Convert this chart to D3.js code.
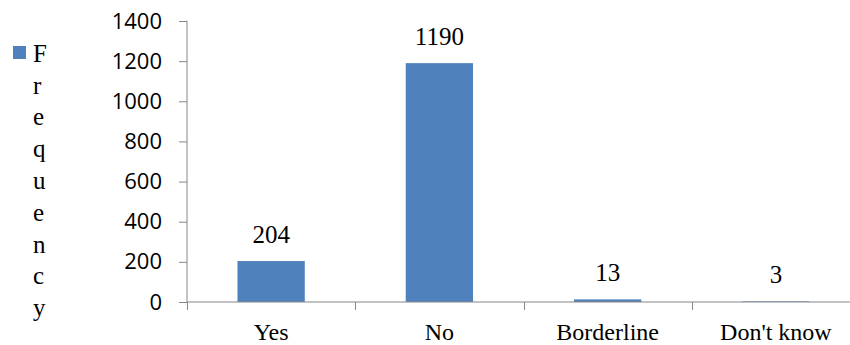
<!DOCTYPE html>
<html>
<head>
<meta charset="utf-8">
<script src="https://cdn.jsdelivr.net/npm/d3@7/dist/d3.min.js"></script>
<style>
  html, body { margin: 0; padding: 0; background: #fff; }
  svg { display: block; }
</style>
</head>
<body>
<svg id="chart" width="850" height="345"></svg>
<script>
// Survey responses and their counts
const categories = ["Yes", "No", "Borderline", "Don't know"];
const frequency = [204, 1190, 13, 3];
const yTicks = [0, 200, 400, 600, 800, 1000, 1200, 1400];
const legendLabel = "Frequency";

const svg = d3.select("#chart");
const axisColor = "#868686";
const barColor = "#4F81BD";
const serif = "'Liberation Serif', 'Times New Roman', serif";
const sans = "'Open Sans', 'Liberation Sans', sans-serif";

const plot = { left: 187, right: 860, top: 21, bottom: 302 };

const x = d3.scaleBand()
  .domain(categories)
  .range([plot.left, plot.right])
  .paddingInner(0)
  .paddingOuter(0);

const y = d3.scaleLinear()
  .domain([0, 1400])
  .range([plot.bottom, plot.top]);

const barWidth = x.bandwidth() * 0.4;

// Bars
svg.append("g")
  .selectAll("rect")
  .data(categories)
  .join("rect")
  .attr("x", (d) => x(d) + (x.bandwidth() - barWidth) / 2)
  .attr("y", (d, i) => y(frequency[i]))
  .attr("width", barWidth)
  .attr("height", (d, i) => y(0) - y(frequency[i]))
  .attr("fill", barColor);

// Value labels above bars
svg.append("g")
  .selectAll("text")
  .data(categories)
  .join("text")
  .attr("x", (d) => x(d) + x.bandwidth() / 2)
  .attr("y", (d, i) => y(frequency[i]) - 18)
  .attr("text-anchor", "middle")
  .attr("font-family", serif)
  .attr("font-size", 25)
  .attr("fill", "#000")
  .text((d, i) => frequency[i]);

// Y axis
const yAxis = svg.append("g")
  .attr("transform", `translate(${plot.left},0)`)
  .call(d3.axisLeft(y).tickValues(yTicks).tickSize(8).tickPadding(17).tickFormat(d3.format("d")));
yAxis.select(".domain").attr("stroke", axisColor).attr("d", `M-0.5,${plot.top}H0V${plot.bottom}`);
yAxis.selectAll(".tick line").attr("stroke", axisColor);
yAxis.selectAll(".tick text")
  .attr("font-family", sans)
  .attr("font-size", 22)
  .attr("fill", "#000");

// X axis
const xAxis = svg.append("g")
  .attr("transform", `translate(0,${plot.bottom})`)
  .call(d3.axisBottom(x).tickSize(0).tickPadding(0));
xAxis.select(".domain").attr("stroke", axisColor).attr("d", `M${plot.left},0H${plot.right}`);
xAxis.selectAll(".tick text")
  .attr("y", 37.5)
  .attr("dy", 0)
  .attr("font-family", serif)
  .attr("font-size", 24)
  .attr("fill", "#000");

// Category separators on the x axis
const bounds = categories.map((d) => x(d)).concat([plot.right]);
svg.append("g")
  .selectAll("line")
  .data(bounds)
  .join("line")
  .attr("x1", (d) => Math.round(d) + 0.5)
  .attr("x2", (d) => Math.round(d) + 0.5)
  .attr("y1", plot.bottom)
  .attr("y2", plot.bottom + 8)
  .attr("stroke", axisColor);

// Legend: marker plus vertically stacked label
const legend = svg.append("g");
legend.append("rect")
  .attr("x", 13).attr("y", 46)
  .attr("width", 13).attr("height", 13)
  .attr("fill", barColor);
legend.selectAll("text")
  .data(legendLabel.split(""))
  .join("text")
  .attr("x", 33)
  .attr("y", (d, i) => 61.7 + i * 31.8)
  .attr("font-family", serif)
  .attr("font-size", 25)
  .attr("fill", "#000")
  .text((d) => d);
</script>
</body>
</html>
